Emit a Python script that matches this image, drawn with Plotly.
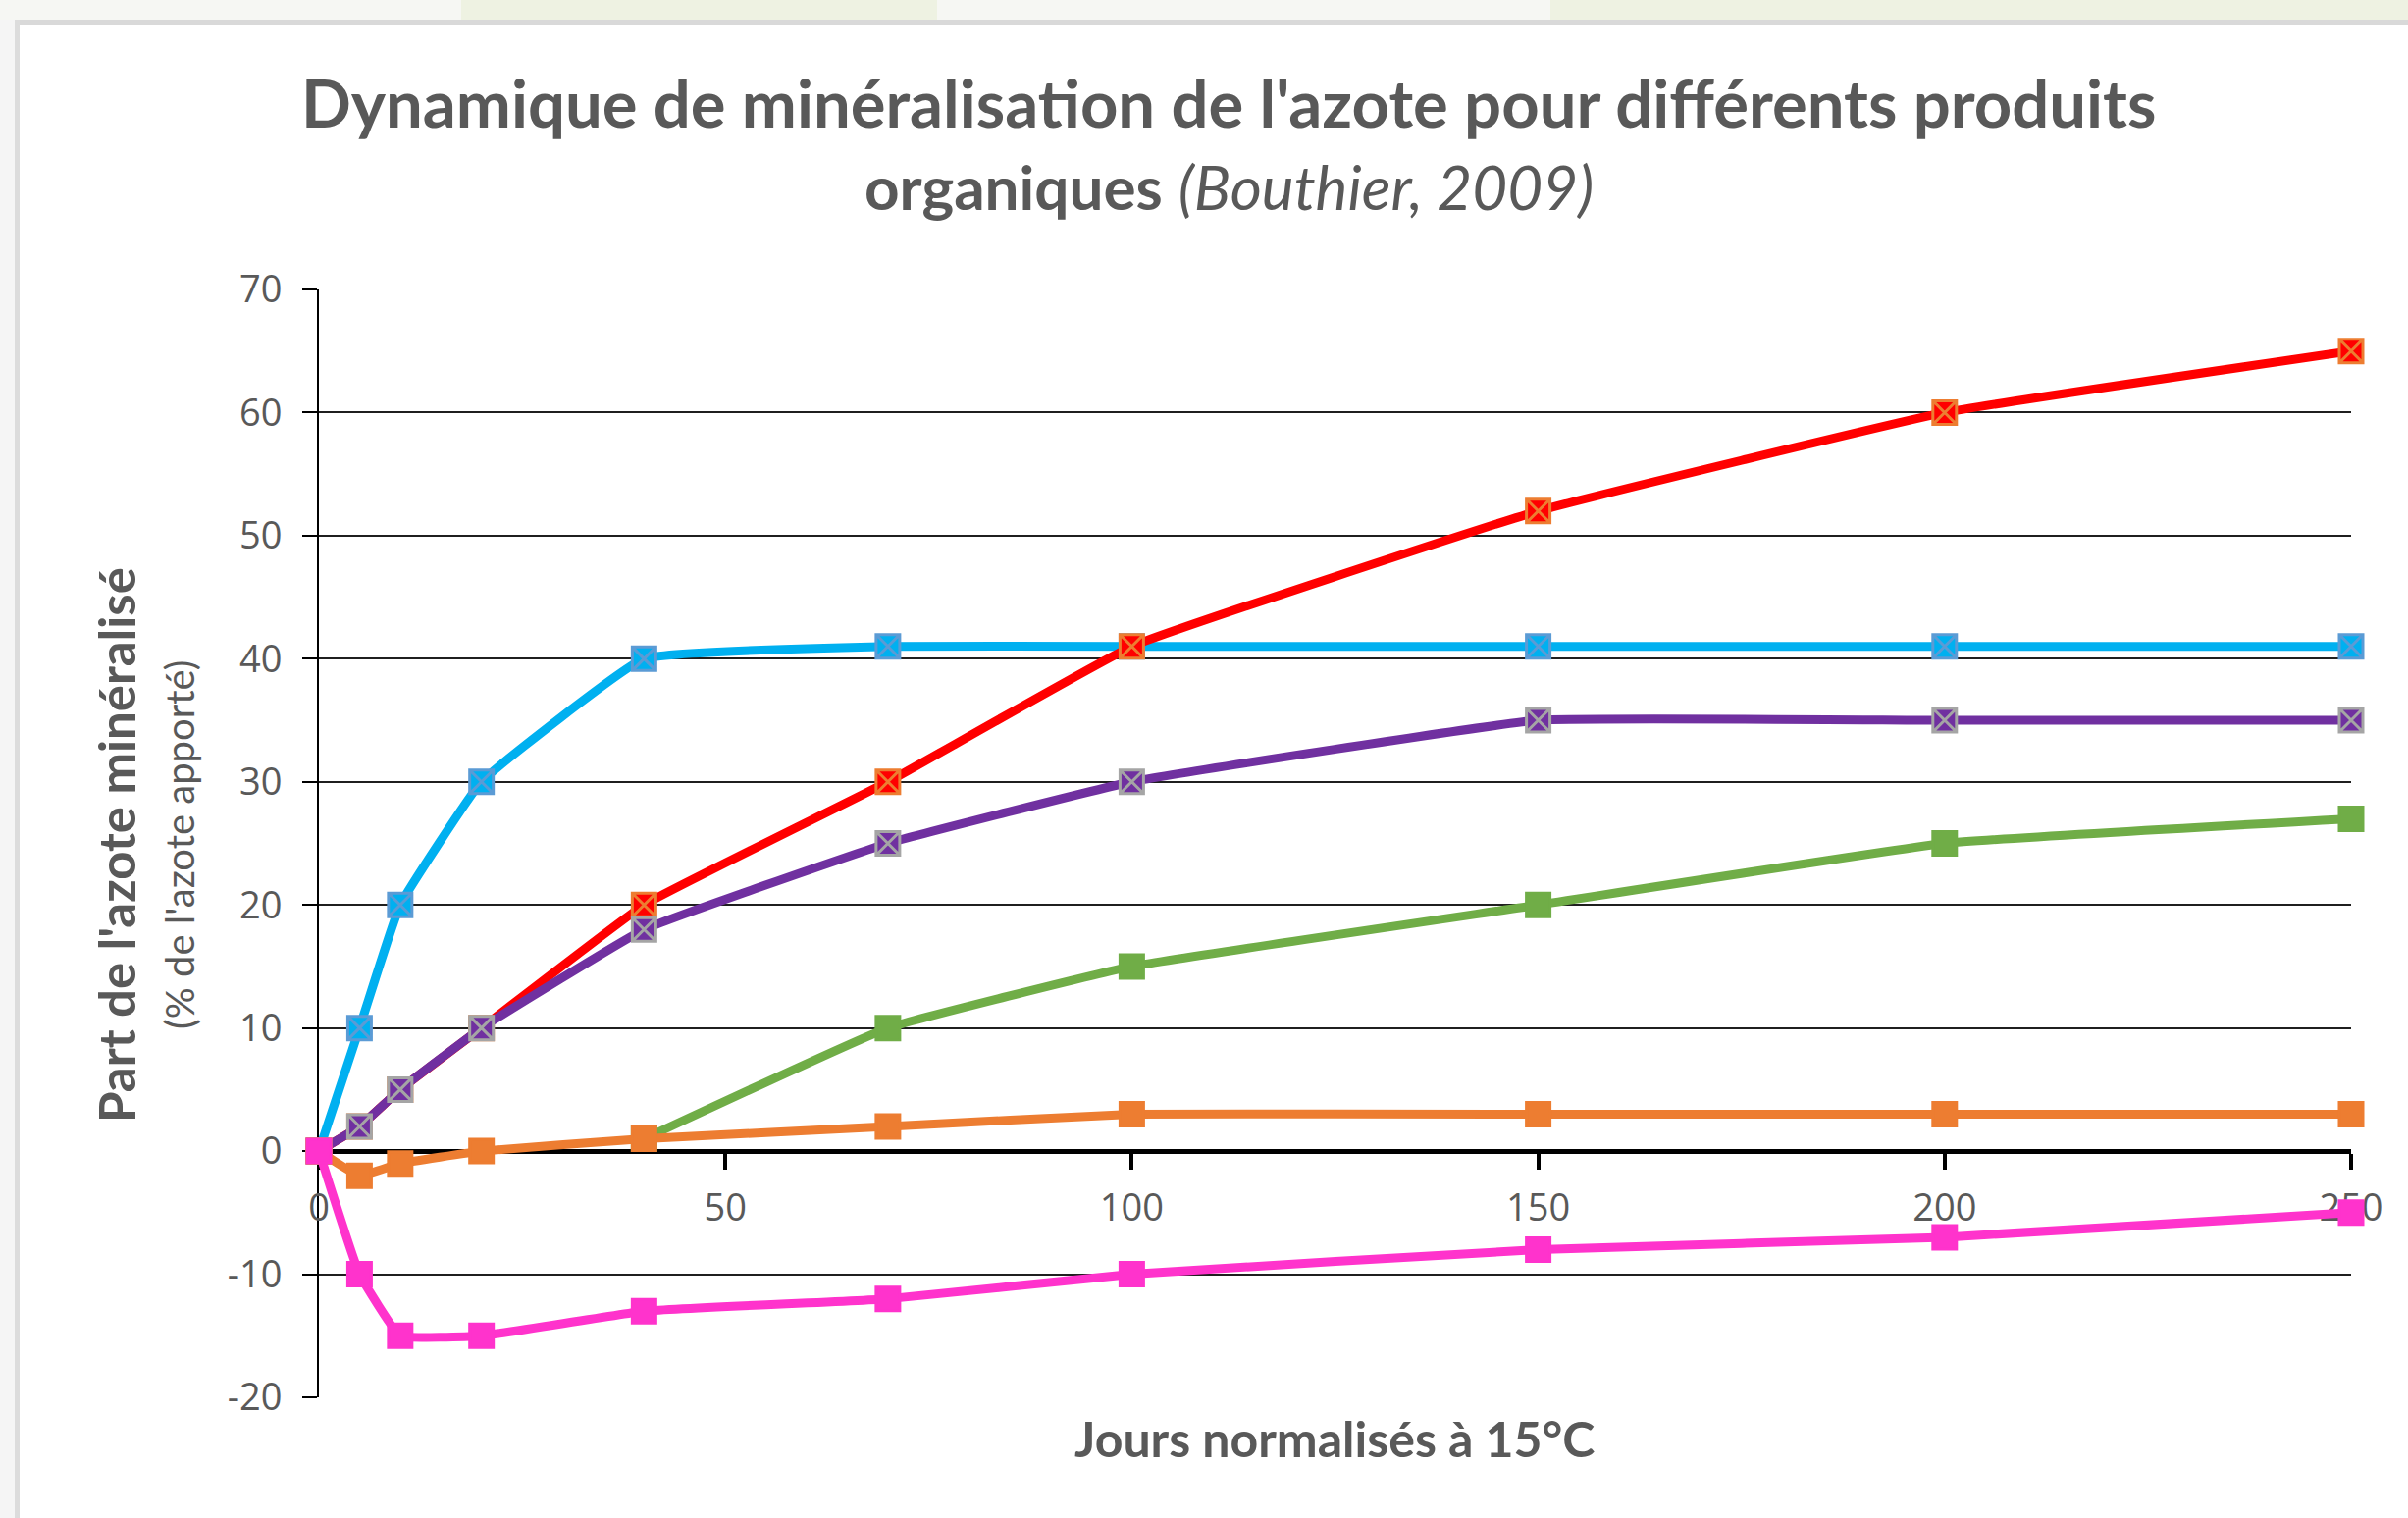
import plotly.graph_objects as go

# Days normalised to 15 °C
jours = [0, 5, 10, 20, 40, 70, 100, 150, 200, 250]

# Share of applied nitrogen that has been mineralised (%)
serie_bleue = [0, 10, 20, 30, 40, 41, 41, 41, 41, 41]
serie_rouge = [0, 2, 5, 10, 20, 30, 41, 52, 60, 65]
serie_violette = [0, 2, 5, 10, 18, 25, 30, 35, 35, 35]
serie_verte = [None, None, None, None, 1, 10, 15, 20, 25, 27]
serie_orange = [0, -2, -1, 0, 1, 2, 3, 3, 3, 3]
serie_rose = [0, -10, -15, -15, -13, -12, -10, -8, -7, -5]

ticks_x = [0, 50, 100, 150, 200, 250]
ticks_y = [-20, -10, 0, 10, 20, 30, 40, 50, 60, 70]
labels_y = ["-20", "-10", "0", "10", "20", "30", "40", "50", "60", "70"]

W_PX, H_PX = 2454, 1547
L, R, T, B = 325, 2396, 295, 1424
PW, PH = R - L, B - T


def fx(px):
    return (px - L) / PW


def fy(py):
    return (B - py) / PH


GREY = "#595959"
TICK_FONT = dict(family="Open Sans", size=38, color=GREY)

fig = go.Figure()

series = [
    (serie_bleue, "#00B0F0", "square-x", "#5B9BD5"),
    (serie_rouge, "#FF0000", "square-x", "#ED7D31"),
    (serie_violette, "#7030A0", "square-x", "#A5A5A5"),
    (serie_verte, "#70AD47", "square", "#70AD47"),
    (serie_orange, "#ED7D31", "square", "#ED7D31"),
    (serie_rose, "#FF33CC", "square", "#FF33CC"),
]

for values, color, symbol, mline in series:
    fig.add_trace(go.Scatter(
        x=jours, y=values,
        mode="lines+markers",
        line=dict(color=color, width=9, shape="spline", smoothing=0.3),
        marker=dict(symbol=symbol, size=24, color=color,
                    line=dict(color=mline, width=3)),
        cliponaxis=False,
        connectgaps=False,
        hoverinfo="x+y",
    ))

fig.update_xaxes(
    range=[0, 250], tickmode="array", tickvals=ticks_x,
    showgrid=False, zeroline=False,
    showline=True, linecolor="black", linewidth=5,
    ticks="outside", ticklen=16, tickwidth=4, tickcolor="black",
    anchor="free", position=(0 - ticks_y[0]) / (ticks_y[-1] - ticks_y[0]),
    tickfont=TICK_FONT, ticklabelstandoff=6, layer="below traces",
)
fig.update_yaxes(
    range=[-20, 70], tickmode="array", tickvals=ticks_y, ticktext=labels_y,
    showgrid=True, gridcolor="#1f1f1f", gridwidth=2, zeroline=False,
    showline=True, linecolor="black", linewidth=2,
    ticks="outside", ticklen=15, tickwidth=2, tickcolor="black",
    tickfont=TICK_FONT, ticklabelstandoff=13, layer="below traces",
)

annotations = [
    dict(text="<b>Dynamique de minéralisation de l'azote pour différents produits</b>",
         x=fx(1252), y=fy(104), font=dict(family="Lato", size=67, color=GREY)),
    dict(text="<b>organiques</b> <i>(Bouthier, 2009)</i>",
         x=fx(1252), y=fy(190), font=dict(family="Lato", size=62, color=GREY)),
    dict(text="<b>Jours normalisés à 15°C</b>",
         x=fx(1360), y=fy(1466), font=dict(family="Lato", size=50, color=GREY)),
    dict(text="<b>Part de l'azote minéralisé</b>", textangle=-90,
         x=fx(119), y=fy(861), font=dict(family="Lato", size=51, color=GREY)),
    dict(text="(% de l'azote apporté)", textangle=-90,
         x=fx(183), y=fy(861), font=dict(family="Lato", size=40, color=GREY)),
]
for a in annotations:
    a.update(xref="paper", yref="paper", showarrow=False,
             xanchor="center", yanchor="middle")

# page surround: light strip along the top and left with a grey frame
shapes = [
    dict(type="rect", x0=fx(0), x1=fx(W_PX), y0=fy(0), y1=fy(20),
         fillcolor="#f6f7f3", line_width=0),
    dict(type="rect", x0=fx(470), x1=fx(955), y0=fy(0), y1=fy(20),
         fillcolor="#eef2e2", line_width=0),
    dict(type="rect", x0=fx(1580), x1=fx(W_PX), y0=fy(0), y1=fy(20),
         fillcolor="#eef2e2", line_width=0),
    dict(type="rect", x0=fx(0), x1=fx(15), y0=fy(20), y1=fy(H_PX),
         fillcolor="#f5f5f5", line_width=0),
    dict(type="rect", x0=fx(15), x1=fx(W_PX), y0=fy(20), y1=fy(25),
         fillcolor="#d9d9d9", line_width=0),
    dict(type="rect", x0=fx(15), x1=fx(20), y0=fy(20), y1=fy(H_PX),
         fillcolor="#dcdcdc", line_width=0),
]
for s in shapes:
    s.update(xref="paper", yref="paper", layer="above")

fig.update_layout(
    width=W_PX, height=H_PX,
    margin=dict(l=L, r=W_PX - R, t=T, b=H_PX - B, pad=0),
    paper_bgcolor="white", plot_bgcolor="white",
    showlegend=False,
    annotations=annotations,
    shapes=shapes,
)

fig.write_html("out.html")
